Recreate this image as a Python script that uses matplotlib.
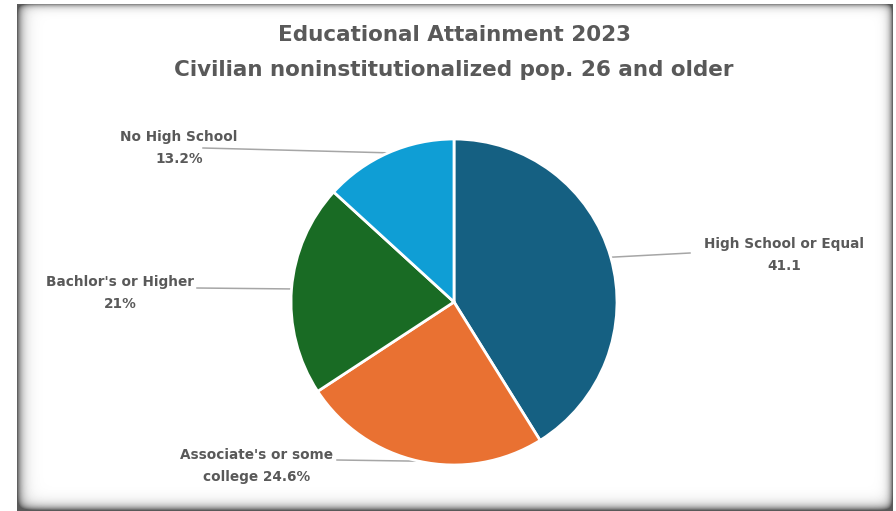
import matplotlib
matplotlib.use('Agg')
import matplotlib.pyplot as plt
import numpy as np

# Data
categories = ['High School or Equal', "Associate's or some college",
              "Bachlor's or Higher", 'No High School']
values = [41.1, 24.6, 21.0, 13.2]
label_texts = ['High School or Equal\n41.1', "Associate's or some\ncollege 24.6%",
               "Bachlor's or Higher\n21%", 'No High School\n13.2%']
colors = ['#156082', '#E97132', '#196B24', '#0F9ED5']

W, H = 896, 511
fig = plt.figure(figsize=(W / 100, H / 100), dpi=100)
ax = fig.add_axes([0, 0, 1, 1])

# picture frame with soft shadow edges (pixel space, y down)
xx, yy = np.meshgrid(np.arange(W), np.arange(H))
dark = (0.62 * np.exp(-(xx - 17) / 5.0) + 0.60 * np.exp(-(892 - xx) / 3.5)
        + 0.45 * np.exp(-(yy - 4) / 3.0) + 0.55 * np.exp(-(509 - yy) / 4.5))
shade = 1 - np.clip(dark, 0, 0.65)
inside = (xx >= 17) & (xx <= 892) & (yy >= 4)
shade[~inside] = 1.0
ax.imshow(shade, cmap='gray', vmin=0, vmax=1, extent=[0, W, 0, H],
          origin='upper', zorder=0, interpolation='bilinear')

cx, cy, r = 454, H - 302, 163
wedges, _ = ax.pie(values, colors=colors, startangle=90, counterclock=False,
                   center=(cx, cy), radius=r,
                   wedgeprops=dict(edgecolor='white', linewidth=2))
for w in wedges:
    w.set_zorder(2)

# label positions (pixels, y down) and where leader line leaves the text
text_pos = [(784, 255), (257, 466), (120, 293), (179, 148)]
line_start = [(690, 253), (337, 460), (197, 288), (203, 148)]

for w, txt, (tx, ty), (lx, ly) in zip(wedges, label_texts, text_pos, line_start):
    ang = np.deg2rad((w.theta1 + w.theta2) / 2)
    px, py = cx + r * np.cos(ang), cy + r * np.sin(ang)
    ax.plot([lx, px], [H - ly, py], color='#A6A6A6', linewidth=1.1, zorder=1)
    ax.text(tx, H - ty, txt, ha='center', va='center', fontsize=9.8,
            fontweight='bold', color='#595959', linespacing=1.75, zorder=3)

ax.text(454, H - 35, 'Educational Attainment 2023', ha='center', va='center',
        fontsize=15.5, fontweight='bold', color='#595959')
ax.text(454, H - 70, 'Civilian noninstitutionalized pop. 26 and older', ha='center',
        va='center', fontsize=15.5, fontweight='bold', color='#595959')

ax.set_xlim(0, W)
ax.set_ylim(0, H)
ax.set_aspect('auto')
ax.axis('off')

fig.savefig('out.png', dpi=100)
plt.close()
